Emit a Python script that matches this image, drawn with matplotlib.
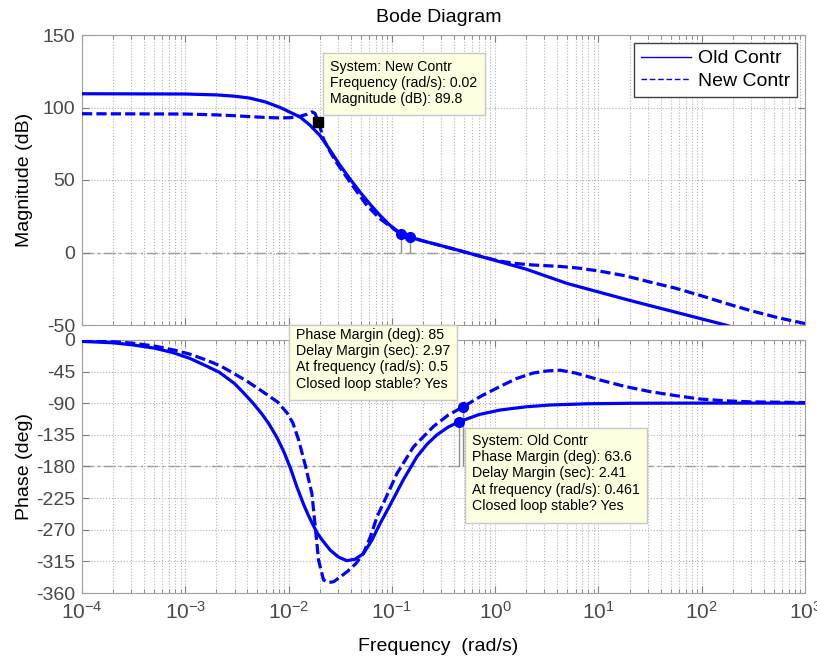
import numpy as np
import matplotlib.pyplot as plt
from matplotlib.patches import Rectangle
from matplotlib.lines import Line2D
from matplotlib.ticker import LogLocator, NullFormatter

plt.rcParams['font.family'] = ['Liberation Sans', 'DejaVu Sans']
plt.rcParams['mathtext.fontset'] = 'custom'
plt.rcParams['mathtext.rm'] = 'Liberation Sans'
plt.rcParams['axes.unicode_minus'] = False

# magnitude (dB)
old_mag_w = [1e-4, 1e-3, 2e-3, 3e-3, 4.2e-3, 6e-3, 8.3e-3, 0.0105, 0.0129, 0.016, 0.0202,
             0.025, 0.0316, 0.04, 0.0494, 0.062, 0.077, 0.095, 0.12, 0.15, 0.2, 0.4, 0.77,
             2, 5, 20, 150, 1000]
old_mag_db = [109.5, 109.3, 108.7, 107.8, 106.5, 103.8, 100, 96.5, 93.5, 88, 80.6,
              71, 60, 50, 41.5, 33, 25.5, 19, 13.5, 10.5, 8, 2.4, -3.2,
              -11.5, -21.4, -33, -49, -65]
new_mag_w = [1e-4, 1e-3, 2e-3, 2.9e-3, 4.5e-3, 6.2e-3, 8.3e-3, 0.0104, 0.0129, 0.015, 0.0168,
             0.018, 0.0195, 0.0218, 0.025, 0.029, 0.0395, 0.0573, 0.077, 0.104, 0.123, 0.2,
             0.4, 0.77, 1.12, 1.6, 2.3, 4.26, 6.5, 10.4, 18, 31.7, 55, 96.8, 170, 295, 550, 1000]
new_mag_db = [95.7, 95.5, 94.9, 94.4, 93.6, 93.1, 92.8, 93, 93.9, 95.3, 97,
              96, 90, 78.3, 70, 62.2, 48.4, 32.4, 23.2, 16.3, 12.5, 8,
              2.3, -3.2, -6, -7.6, -8.6, -9.6, -10.8, -12.9, -16, -20.4, -24.5, -29.6, -35, -40, -45, -49]

# phase (deg)
old_ph_w = [1e-4, 2e-4, 3.1e-4, 5e-4, 7.6e-4, 1.1e-3, 1.6e-3, 2.14e-3, 3e-3, 3.6e-3, 4.54e-3,
            5.5e-3, 6.5e-3, 7.8e-3, 9e-3, 0.0104, 0.0121, 0.0139, 0.0155, 0.0175, 0.019,
            0.021, 0.0253, 0.0305, 0.0367, 0.044, 0.053, 0.064, 0.077, 0.096, 0.129, 0.175,
            0.22, 0.273, 0.35, 0.448, 0.7, 1.12, 2, 3.4, 8, 21.7, 100, 1000]
old_ph = [-2, -4, -7, -11.5, -18, -26, -37, -46, -62, -74, -90,
          -105, -120, -140, -159, -182, -210, -233, -249, -265, -275,
          -284, -299, -309, -314, -312, -304, -285, -261, -235, -199, -166,
          -148, -135, -124, -116.4, -106, -99.6, -95, -92.5, -90.7, -90, -89.8, -89.8]
new_ph_w = [1e-4, 2e-4, 3.1e-4, 5e-4, 7.6e-4, 1.1e-3, 1.6e-3, 2.2e-3, 2.9e-3, 4e-3, 5.3e-3,
            6.5e-3, 7.8e-3, 9.7e-3, 0.011, 0.0125, 0.0145, 0.0168, 0.018, 0.0195, 0.0218,
            0.0245, 0.0273, 0.0367, 0.045, 0.053, 0.062, 0.072, 0.083, 0.112, 0.162, 0.253,
            0.35, 0.49, 0.75, 1.12, 1.6, 2.33, 3.2, 4.26, 6, 10.4, 18, 31.7, 55, 96.8,
            170, 295, 1000]
new_ph = [-1, -2.5, -4.5, -8.5, -14, -20, -28.5, -37, -47, -59, -71,
          -80, -88, -104, -118, -142, -178, -218, -261, -313, -341.5,
          -345, -344, -330, -318, -303.5, -280, -251, -232, -190, -152, -123,
          -107, -95, -79, -66, -55, -47, -44, -43, -47, -57, -66, -73.5, -79, -84,
          -86.5, -88, -89]

# margin markers and data tip
mag_mark_w = [0.123, 0.15]
mag_mark_db = [12.5, 10.5]
ph_mark_w = [0.448, 0.49]
ph_mark_deg = [-116.4, -95]
tip_w, tip_db = 0.0194, 89.8

blue = '#0000ff'
gray = '#a0a0a0'
dash = (0, (3.2, 1.3))

W, H = 817, 660
fig = plt.figure(figsize=(W / 100, H / 100), dpi=100)
ax1 = fig.add_axes([82 / W, 1 - 325 / H, 723 / W, 290 / H])
ax2 = fig.add_axes([82 / W, 1 - 593 / H, 723 / W, 253 / H])

for ax in (ax1, ax2):
    ax.set_xscale('log')
    ax.set_xlim(1e-4, 1e3)
    ax.xaxis.set_major_locator(LogLocator(base=10, numticks=20))
    ax.xaxis.set_minor_locator(LogLocator(base=10, subs=np.arange(2, 10), numticks=20))
    ax.xaxis.set_minor_formatter(NullFormatter())
    ax.grid(True, which='major', ls=':', color='#b4b4b4', lw=0.8)
    ax.grid(True, which='minor', axis='x', ls=':', color='#b4b4b4', lw=0.8)
    ax.tick_params(which='both', direction='in', top=True, right=True,
                   color='#808080', labelcolor='#484848')
    ax.tick_params(axis='y', labelsize=14, pad=5)
    ax.tick_params(axis='x', labelsize=15, pad=6)
    ax.tick_params(which='major', length=5)
    ax.tick_params(which='minor', length=3)
    for s in ax.spines.values():
        s.set_color(gray)

ax1.tick_params(labelbottom=False)

# magnitude
ax1.axhline(0, color='#909090', lw=1, ls=(0, (8, 3, 1.5, 3)), zorder=1)
ax1.plot(old_mag_w, old_mag_db, color=blue, lw=2.3, zorder=3)
ax1.plot(new_mag_w, new_mag_db, color=blue, lw=2.3, ls=dash, zorder=3)
ax1.vlines(mag_mark_w, 0, mag_mark_db, color='#909090', lw=1, zorder=2)
ax1.plot(mag_mark_w, mag_mark_db, 'o', color=blue, ms=7, zorder=4)
ax1.plot([tip_w], [tip_db], 's', color='black', ms=6.5, zorder=5)
ax1.set_ylim(-50, 150)
ax1.set_yticks([-50, 0, 50, 100, 150])
ax1.set_ylabel('Magnitude (dB)', fontsize=14)
ax1.yaxis.set_label_coords((33 - 82) / 723, 0.5)
ax1.set_title('Bode Diagram', fontsize=14, pad=9, x=0.494)

# phase
ax2.axhline(-180, color='#909090', lw=1, ls=(0, (8, 3, 1.5, 3)), zorder=1)
ax2.plot(old_ph_w, old_ph, color=blue, lw=2.3, zorder=3)
ax2.plot(new_ph_w, new_ph, color=blue, lw=2.3, ls=dash, zorder=3)
ax2.vlines(ph_mark_w, -180, ph_mark_deg, color='#909090', lw=1, zorder=2)
ax2.plot(ph_mark_w, ph_mark_deg, 'o', color=blue, ms=7, zorder=4)
ax2.set_ylim(-360, 0)
ax2.set_yticks(np.arange(-360, 1, 45))
ax2.set_ylabel('Phase (deg)', fontsize=14)
ax2.yaxis.set_label_coords((33 - 82) / 723, 0.5)
ax2.set_xlabel('Frequency  (rad/s)', fontsize=14)
ax2.xaxis.set_label_coords(0.492, -0.176)

handles = [Line2D([], [], color=blue, lw=1),
           Line2D([], [], color=blue, lw=1, ls=(0, (4, 2)))]
fig.legend(handles, ['Old Contr', 'New Contr'], loc='upper right',
           bbox_to_anchor=(797 / W, 1 - 43 / H), bbox_transform=fig.transFigure,
           fontsize=14, fancybox=False, framealpha=1, edgecolor='#404040',
           borderpad=0.35, labelspacing=0.25, handlelength=2.6, handletextpad=0.35,
           borderaxespad=0)


def tip(x0, y0, x1, y1, ty, text):
    fig.add_artist(Rectangle((x0 / W, 1 - y1 / H), (x1 - x0) / W, (y1 - y0) / H,
                             transform=fig.transFigure, fc='#ffffe1', ec='#c8c8c8',
                             lw=1, zorder=6))
    fig.text((x0 + 7) / W, 1 - ty / H, text, ha='left', va='top', fontsize=10.2,
             linespacing=1.2, zorder=7)


tip(323, 53, 485, 115, 60,
    'System: New Contr\nFrequency (rad/s): 0.02\nMagnitude (dB): 89.8')
tip(289, 325, 457, 400, 328,
    'Phase Margin (deg): 85\nDelay Margin (sec): 2.97\n'
    'At frequency (rad/s): 0.5\nClosed loop stable? Yes')
tip(465, 428, 647, 523, 434,
    'System: Old Contr\nPhase Margin (deg): 63.6\nDelay Margin (sec): 2.41\n'
    'At frequency (rad/s): 0.461\nClosed loop stable? Yes')

fig.savefig('out.png', dpi=100)
